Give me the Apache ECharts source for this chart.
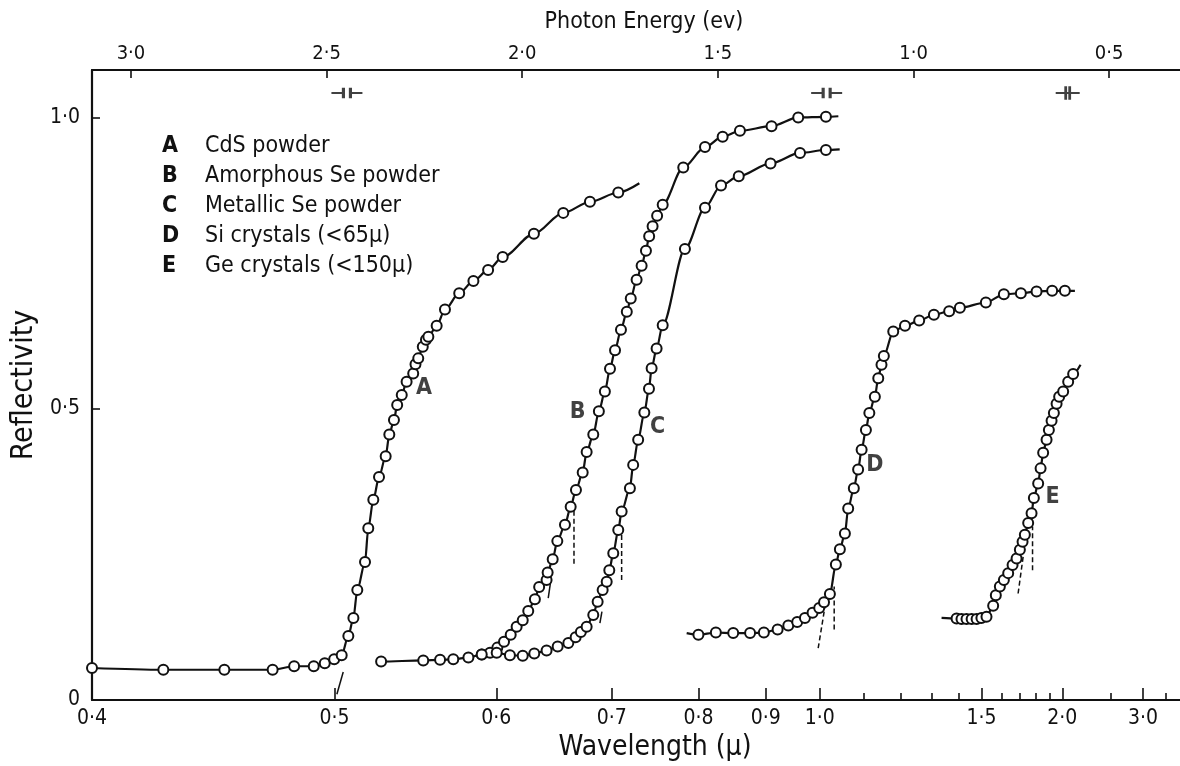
<!DOCTYPE html>
<html><head><meta charset="utf-8">
<script src="https://cdn.jsdelivr.net/npm/echarts@6/dist/echarts.min.js"></script>
<style>html,body{margin:0;padding:0;background:#fff}#c{width:1180px;height:766px}</style>
</head><body><div id="c"></div>
<script>
// photon energy (eV) = HC / wavelength (μ)
const HC = 1.2398;

// ---- axis ticks / labels ----
const wavelengthMajor = [0.4, 0.5, 0.6, 0.7, 0.8, 0.9, 1.0, 1.5, 2.0, 3.0];
const wavelengthLabels = ['0·4', '0·5', '0·6', '0·7', '0·8', '0·9', '1·0', '1·5', '2·0', '3·0'];
const wavelengthMinor = [1.1, 1.2, 1.3, 1.4, 1.6, 1.7, 1.8, 1.9, 2.5, 3.5];
const energyTicks = [0.5, 1.0, 1.5, 2.0, 2.5, 3.0];
const energyLabels = ['0·5', '1·0', '1·5', '2·0', '2·5', '3·0'];
const reflTicks = [0, 0.5, 1.0];
const reflLabels = ['0', '0·5', '1·0'];
const wavelengthMin = 0.4;      // left edge of plot
const energyMin = 0.319;        // right edge of plot (eV)
const reflMax = 1.0825;

// ---- legend ----
const legendKeys = ['A', 'B', 'C', 'D', 'E'];
const legendNames = ['CdS powder', 'Amorphous Se powder', 'Metallic Se powder', 'Si crystals (<65μ)', 'Ge crystals (<150μ)'];

// ---- curve A : CdS powder ----
const lamA = [0.400, 0.425, 0.449, 0.470, 0.480, 0.4895, 0.495, 0.4998, 0.5037, 0.5072, 0.5099, 0.512, 0.5162, 0.518, 0.5208, 0.524, 0.5278, 0.5299, 0.5326, 0.5345, 0.5372, 0.5401, 0.5441, 0.5455, 0.5472, 0.550, 0.552, 0.5535, 0.5588, 0.5642, 0.5737, 0.5835, 0.594, 0.6048, 0.6293, 0.6542, 0.6786, 0.7066];
const refA = [0.055, 0.052, 0.052, 0.052, 0.058, 0.058, 0.063, 0.070, 0.077, 0.110, 0.141, 0.189, 0.237, 0.295, 0.344, 0.383, 0.419, 0.456, 0.481, 0.507, 0.524, 0.547, 0.561, 0.577, 0.587, 0.607, 0.619, 0.624, 0.643, 0.671, 0.699, 0.720, 0.739, 0.761, 0.801, 0.837, 0.856, 0.872];
const startA = null;
const endA = [0.729, 0.888];

// ---- curve B : amorphous Se powder ----
const lamB = [0.5252, 0.5503, 0.561, 0.5697, 0.580, 0.5894, 0.5954, 0.6008, 0.6058, 0.6109, 0.6155, 0.6203, 0.6247, 0.6301, 0.6336, 0.6398, 0.6407, 0.645, 0.649, 0.6557, 0.6608, 0.6656, 0.6718, 0.6755, 0.6818, 0.6872, 0.6931, 0.6982, 0.7033, 0.7094, 0.7155, 0.7197, 0.726, 0.7315, 0.7363, 0.7399, 0.7438, 0.749, 0.7555, 0.7805, 0.8088, 0.8333, 0.8588, 0.9097, 0.9576, 1.013];
const refB = [0.066, 0.068, 0.069, 0.070, 0.073, 0.078, 0.081, 0.090, 0.100, 0.112, 0.126, 0.137, 0.153, 0.173, 0.194, 0.206, 0.219, 0.242, 0.273, 0.301, 0.332, 0.361, 0.391, 0.426, 0.456, 0.496, 0.530, 0.569, 0.601, 0.636, 0.667, 0.690, 0.722, 0.746, 0.772, 0.797, 0.814, 0.832, 0.851, 0.915, 0.950, 0.968, 0.978, 0.986, 1.001, 1.002];
const startB = [0.5227, 0.066];
const endB = [1.040, 1.003];

// ---- curve C : metallic Se powder ----
const lamC = [0.5894, 0.6003, 0.6103, 0.6203, 0.6296, 0.6398, 0.6493, 0.6587, 0.6653, 0.6701, 0.6755, 0.6818, 0.686, 0.6909, 0.6949, 0.6975, 0.7015, 0.7066, 0.7101, 0.7188, 0.7223, 0.7277, 0.7345, 0.7397, 0.7427, 0.7484, 0.7555, 0.7826, 0.8088, 0.831, 0.857, 0.908, 0.961, 1.013];
const refC = [0.078, 0.081, 0.077, 0.076, 0.080, 0.085, 0.092, 0.098, 0.108, 0.117, 0.126, 0.146, 0.169, 0.189, 0.203, 0.223, 0.252, 0.292, 0.324, 0.364, 0.404, 0.447, 0.494, 0.535, 0.570, 0.604, 0.644, 0.775, 0.846, 0.884, 0.900, 0.922, 0.940, 0.945];
const startC = null;
const endC = [1.043, 0.946];

// ---- curve D : Si crystals ----
const lamD = [0.800, 0.8237, 0.8487, 0.8745, 0.8968, 0.9202, 0.9392, 0.9557, 0.9705, 0.9855, 0.999, 1.009, 1.0215, 1.0345, 1.0434, 1.0548, 1.0624, 1.0757, 1.086, 1.0946, 1.1053, 1.114, 1.1283, 1.1373, 1.146, 1.1524, 1.1787, 1.2133, 1.258, 1.308, 1.364, 1.4064, 1.521, 1.612, 1.7085, 1.8084, 1.920, 2.022];
const refD = [0.112, 0.116, 0.115, 0.115, 0.116, 0.121, 0.128, 0.134, 0.141, 0.150, 0.158, 0.168, 0.182, 0.233, 0.259, 0.286, 0.329, 0.364, 0.396, 0.430, 0.464, 0.493, 0.521, 0.553, 0.576, 0.591, 0.633, 0.643, 0.652, 0.662, 0.668, 0.674, 0.683, 0.697, 0.699, 0.702, 0.703, 0.703];
const startD = [0.7848, 0.115];
const endD = [2.110, 0.703];

// ---- curve E : Ge crystals ----
const lamE = [1.393, 1.413, 1.434, 1.456, 1.478, 1.500, 1.524, 1.5566, 1.570, 1.5908, 1.612, 1.6354, 1.660, 1.683, 1.7025, 1.7187, 1.7328, 1.7536, 1.7753, 1.7904, 1.8193, 1.836, 1.854, 1.8785, 1.8954, 1.9156, 1.9332, 1.9543, 1.9748, 2.0075, 2.050, 2.094];
const refE = [0.140, 0.139, 0.139, 0.139, 0.139, 0.141, 0.143, 0.162, 0.180, 0.195, 0.206, 0.218, 0.232, 0.243, 0.258, 0.272, 0.284, 0.304, 0.321, 0.347, 0.372, 0.398, 0.425, 0.447, 0.464, 0.480, 0.493, 0.509, 0.521, 0.530, 0.547, 0.560];
const startE = [1.3355, 0.141];
const endE = [2.163, 0.576];

// ---- construction (tangent) lines: [wavelength, reflectivity] ----
const tanA = [[0.5012, 0.010], [0.5045, 0.048]];
const tanB1 = [[0.6412, 0.175], [0.6432, 0.203]];
const tanB2 = [[0.6638, 0.234], [0.6638, 0.332]];
const tanC1 = [[0.6882, 0.132], [0.6902, 0.152]];
const tanC2 = [[0.7101, 0.206], [0.7101, 0.286]];
const tanD1 = [[0.9969, 0.089], [1.0109, 0.160]];
const tanD2 = [[1.0308, 0.121], [1.0308, 0.195]];
const tanE1 = [[1.692, 0.183], [1.7222, 0.246]];
const tanE2 = [[1.7817, 0.223], [1.7817, 0.298]];

// ---- slit-width marks along the top (photon energy eV) ----
const slitEnergy = [2.448, 1.222, 0.606];
const slitLevel = 1.043;

// ---- curve letter labels [wavelength, reflectivity] ----
const curveLabelPos = [[0.5507, 0.536], [0.6671, 0.494], [0.7496, 0.469], [1.1284, 0.404], [1.9231, 0.349]];

// ======================================================
const FONT = "'DejaVu Sans Condensed', 'Liberation Sans Narrow', sans-serif";
const INK = '#111';
const energyMax = HC / wavelengthMin;
const toE = l => HC / l;

function curveData(lam, ref, start, end) {
  const d = [];
  if (start) d.push({ value: [toE(start[0]), start[1]], symbol: 'none' });
  lam.forEach((l, i) => d.push([toE(l), ref[i]]));
  if (end) d.push({ value: [toE(end[0]), end[1]], symbol: 'none' });
  return d;
}
function curveSeries(name, data) {
  return {
    name, type: 'line', data, smooth: 0.3, smoothMonotone: 'x', clip: false,
    symbol: 'circle', symbolSize: 10, showAllSymbol: true,
    itemStyle: { color: '#fff', borderColor: INK, borderWidth: 2 },
    lineStyle: { color: INK, width: 2.2 },
    emphasis: { disabled: true }, z: 3
  };
}
function tanSeries(pts, dashed) {
  return {
    type: 'line', data: pts.map(p => [toE(p[0]), p[1]]), symbol: 'none', clip: false,
    lineStyle: { color: INK, width: 1.5, type: dashed ? [5, 3] : 'solid' },
    emphasis: { disabled: true }, z: 2, silent: true
  };
}
function labelFor(v, ticks, labels, conv) {
  for (let i = 0; i < ticks.length; i++) if (Math.abs(conv(ticks[i]) - v) < 1e-6) return labels[i];
  return '';
}

const chart = echarts.init(document.getElementById('c'), null, { renderer: 'canvas' });
const axisText = { color: INK, fontFamily: FONT, fontSize: 21 };

chart.setOption({
  backgroundColor: '#fff',
  animation: false,
  grid: { left: 92, right: 0, top: 70, bottom: 66, containLabel: false, outerBoundsMode: 'none' },
  legend: {
    show: true, orient: 'vertical', left: 152, top: 126, icon: 'none', itemWidth: 0, itemHeight: 10, itemGap: 0,
    selectedMode: false, data: legendNames,
    formatter: name => '{k|' + legendKeys[legendNames.indexOf(name)] + '}{t|' + name + '}',
    textStyle: {
      color: INK, fontFamily: FONT, fontSize: 23, lineHeight: 30,
      rich: {
        k: { width: 43, fontFamily: FONT, fontSize: 23, fontWeight: 'bold', color: INK },
        t: { fontFamily: FONT, fontSize: 23, color: INK }
      }
    }
  },
  xAxis: [
    {
      type: 'value', position: 'bottom', min: energyMin, max: energyMax, inverse: true,
      axisLine: { show: true, onZero: false, lineStyle: { color: INK, width: 2.2 } },
      axisTick: { show: true, inside: true, length: 12, lineStyle: { color: INK, width: 1.6 }, customValues: wavelengthMajor.map(toE) },
      axisLabel: { show: true, customValues: wavelengthMajor.map(toE), formatter: v => labelFor(v, wavelengthMajor, wavelengthLabels, toE), margin: 8, ...axisText },
      splitLine: { show: false },
      name: 'Wavelength (μ)', nameLocation: 'middle', nameGap: 30,
      nameTextStyle: { color: INK, fontFamily: FONT, fontSize: 28, padding: [0, 0, 0, 38] }
    },
    {
      type: 'value', position: 'bottom', min: energyMin, max: energyMax, inverse: true,
      axisLine: { show: false },
      axisTick: { show: true, inside: true, length: 7, lineStyle: { color: INK, width: 1.6 }, customValues: wavelengthMinor.map(toE) },
      axisLabel: { show: false }, splitLine: { show: false }
    },
    {
      type: 'value', position: 'top', min: energyMin, max: energyMax, inverse: true,
      axisLine: { show: true, onZero: false, lineStyle: { color: INK, width: 2.2 } },
      axisTick: { show: true, inside: true, length: 8, lineStyle: { color: INK, width: 1.6 }, customValues: energyTicks },
      axisLabel: { show: true, customValues: energyTicks, formatter: v => labelFor(v, energyTicks, energyLabels, e => e), margin: 6, ...axisText, fontSize: 20 },
      splitLine: { show: false },
      name: 'Photon Energy (ev)', nameLocation: 'middle', nameGap: 36,
      nameTextStyle: { color: INK, fontFamily: FONT, fontSize: 23, padding: [0, 0, 0, 16] }
    }
  ],
  yAxis: {
    type: 'value', min: 0, max: reflMax,
    axisLine: { show: true, onZero: false, lineStyle: { color: INK, width: 2.2 } },
    axisTick: { show: true, inside: true, length: 8, lineStyle: { color: INK, width: 1.6 }, customValues: reflTicks.slice(1) },
    axisLabel: { show: true, customValues: reflTicks, formatter: v => labelFor(v, reflTicks, reflLabels, r => r), margin: 12, ...axisText },
    splitLine: { show: false },
    name: 'Reflectivity', nameLocation: 'middle', nameGap: 45, nameRotate: 90,
    nameTextStyle: { color: INK, fontFamily: FONT, fontSize: 30 }
  },
  series: [
    curveSeries(legendNames[0], curveData(lamA, refA, startA, endA)),
    curveSeries(legendNames[1], curveData(lamB, refB, startB, endB)),
    curveSeries(legendNames[2], curveData(lamC, refC, startC, endC)),
    curveSeries(legendNames[3], curveData(lamD, refD, startD, endD)),
    curveSeries(legendNames[4], curveData(lamE, refE, startE, endE)),
    tanSeries(tanA, false), tanSeries(tanB1, false), tanSeries(tanB2, true),
    tanSeries(tanC1, false), tanSeries(tanC2, true), tanSeries(tanD1, true),
    tanSeries(tanD2, true), tanSeries(tanE1, true), tanSeries(tanE2, true),
    {
      type: 'scatter', silent: true, clip: false,
      data: slitEnergy.map((e, i) => ({
        value: [e, slitLevel],
        symbol: i === 2 ? 'path://M0 9 L24 9 M10 0 L10 18 M14 0 L14 18' : 'path://M0 9 L12 9 M12 0 L12 18 M19 0 L19 18 M19 9 L31 9',
        symbolSize: i === 2 ? [24, 18] : [31, 18]
      })),
      symbolKeepAspect: true,
      itemStyle: { color: 'rgba(0,0,0,0)', borderColor: INK, borderWidth: 2.4 }
    },
    {
      type: 'scatter', silent: true, clip: false, symbolSize: 0,
      data: curveLabelPos.map((p, i) => ({ value: [toE(p[0]), p[1]], name: legendKeys[i] })),
      label: { show: true, position: 'inside', formatter: p => p.name, color: INK, fontFamily: FONT, fontSize: 23, fontWeight: 'bold' }
    }
  ]
});
</script>
</body></html>
